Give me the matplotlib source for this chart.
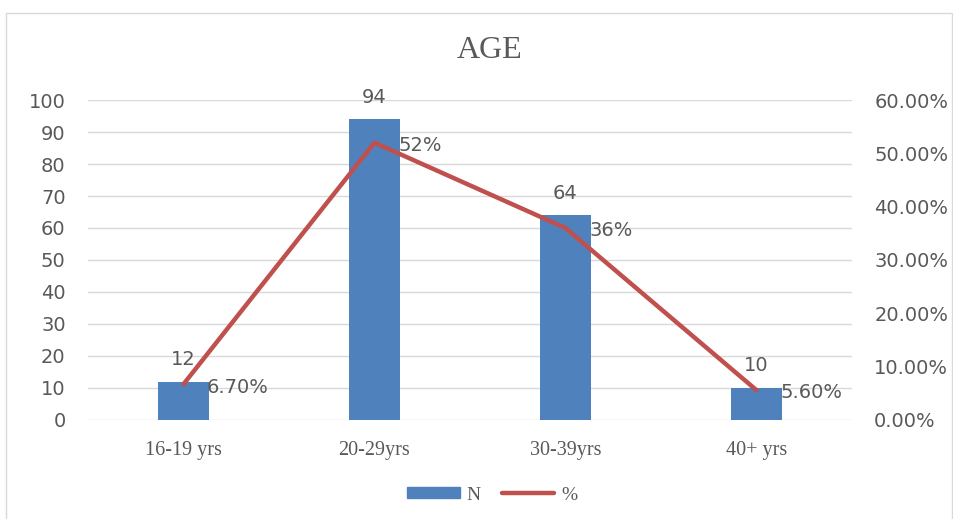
import matplotlib
matplotlib.use("Agg")
import matplotlib.pyplot as plt
from matplotlib.patches import Rectangle
from matplotlib.lines import Line2D

categories = ["16-19 yrs", "20-29yrs", "30-39yrs", "40+ yrs"]
counts = [12, 94, 64, 10]
percents = [6.7, 52, 36, 5.6]
percent_labels = ["6.70%", "52%", "36%", "5.60%"]
left_ticks = list(range(0, 101, 10))
right_ticks = [0, 10, 20, 30, 40, 50, 60]

BLUE = "#4F81BD"
RED = "#C0504D"
GRID = "#D9D9D9"
TXT = "#595959"
FS = 14

fig = plt.figure(figsize=(9.54, 5.19), dpi=100)
fig.patches.append(Rectangle((0.006, -0.01), 0.992, 0.985, transform=fig.transFigure,
                             fill=False, edgecolor="#D9D9D9", linewidth=1))

ax = fig.add_axes([0.0922, 0.1908, 0.8008, 0.6165])
x = list(range(len(categories)))
ax.bar(x, counts, width=0.27, color=BLUE, zorder=2)
ax.set_ylim(0, 100)
ax.set_xlim(-0.5, len(categories) - 0.5)
ax.set_yticks(left_ticks)
ax.grid(axis="y", color=GRID, linewidth=1, zorder=0)
ax.set_axisbelow(True)
for s in ax.spines.values():
    s.set_visible(False)
ax.tick_params(axis="both", length=0, colors=TXT)
ax.tick_params(axis="y", pad=16, labelsize=FS)
ax.set_xticks(x)
ax.set_xticklabels(categories, fontfamily="Liberation Serif", fontsize=14.5, color=TXT)
ax.tick_params(axis="x", pad=15)

for xi, c in zip(x, counts):
    ax.annotate(str(c), (xi, c), xytext=(0, 9), textcoords="offset points",
                ha="center", va="bottom", fontsize=FS, color=TXT, zorder=5)

ax2 = ax.twinx()
ax2.set_ylim(0, 60)
ax2.set_yticks(right_ticks)
ax2.set_yticklabels([f"{t:.2f}%" for t in right_ticks])
for s in ax2.spines.values():
    s.set_visible(False)
ax2.tick_params(axis="y", length=0, colors=TXT, pad=16, labelsize=FS)
ax2.plot(x, percents, color=RED, linewidth=3.2, solid_capstyle="round", zorder=3)
for xi, p, lab in zip(x, percents, percent_labels):
    ax2.annotate(lab, (xi, p), xytext=(17, -2), textcoords="offset points",
                 ha="left", va="center", fontsize=FS, color=TXT, zorder=5)

fig.text(0.513, 0.902, "AGE", ha="center", va="center", fontsize=23,
         fontfamily="Liberation Serif", color=TXT)

handles = [Rectangle((0, 0), 1, 1, color=BLUE),
           Line2D([0], [0], color=RED, linewidth=3.2, solid_capstyle="round")]
leg = fig.legend(handles, ["N", "%"], loc="center", bbox_to_anchor=(0.516, 0.046),
                 ncol=2, frameon=False, handlelength=2.7, handleheight=0.5,
                 columnspacing=1.1, handletextpad=0.35,
                 prop={"family": "Liberation Serif", "size": 14})
for t in leg.get_texts():
    t.set_color(TXT)

fig.savefig("out.png", dpi=100)
